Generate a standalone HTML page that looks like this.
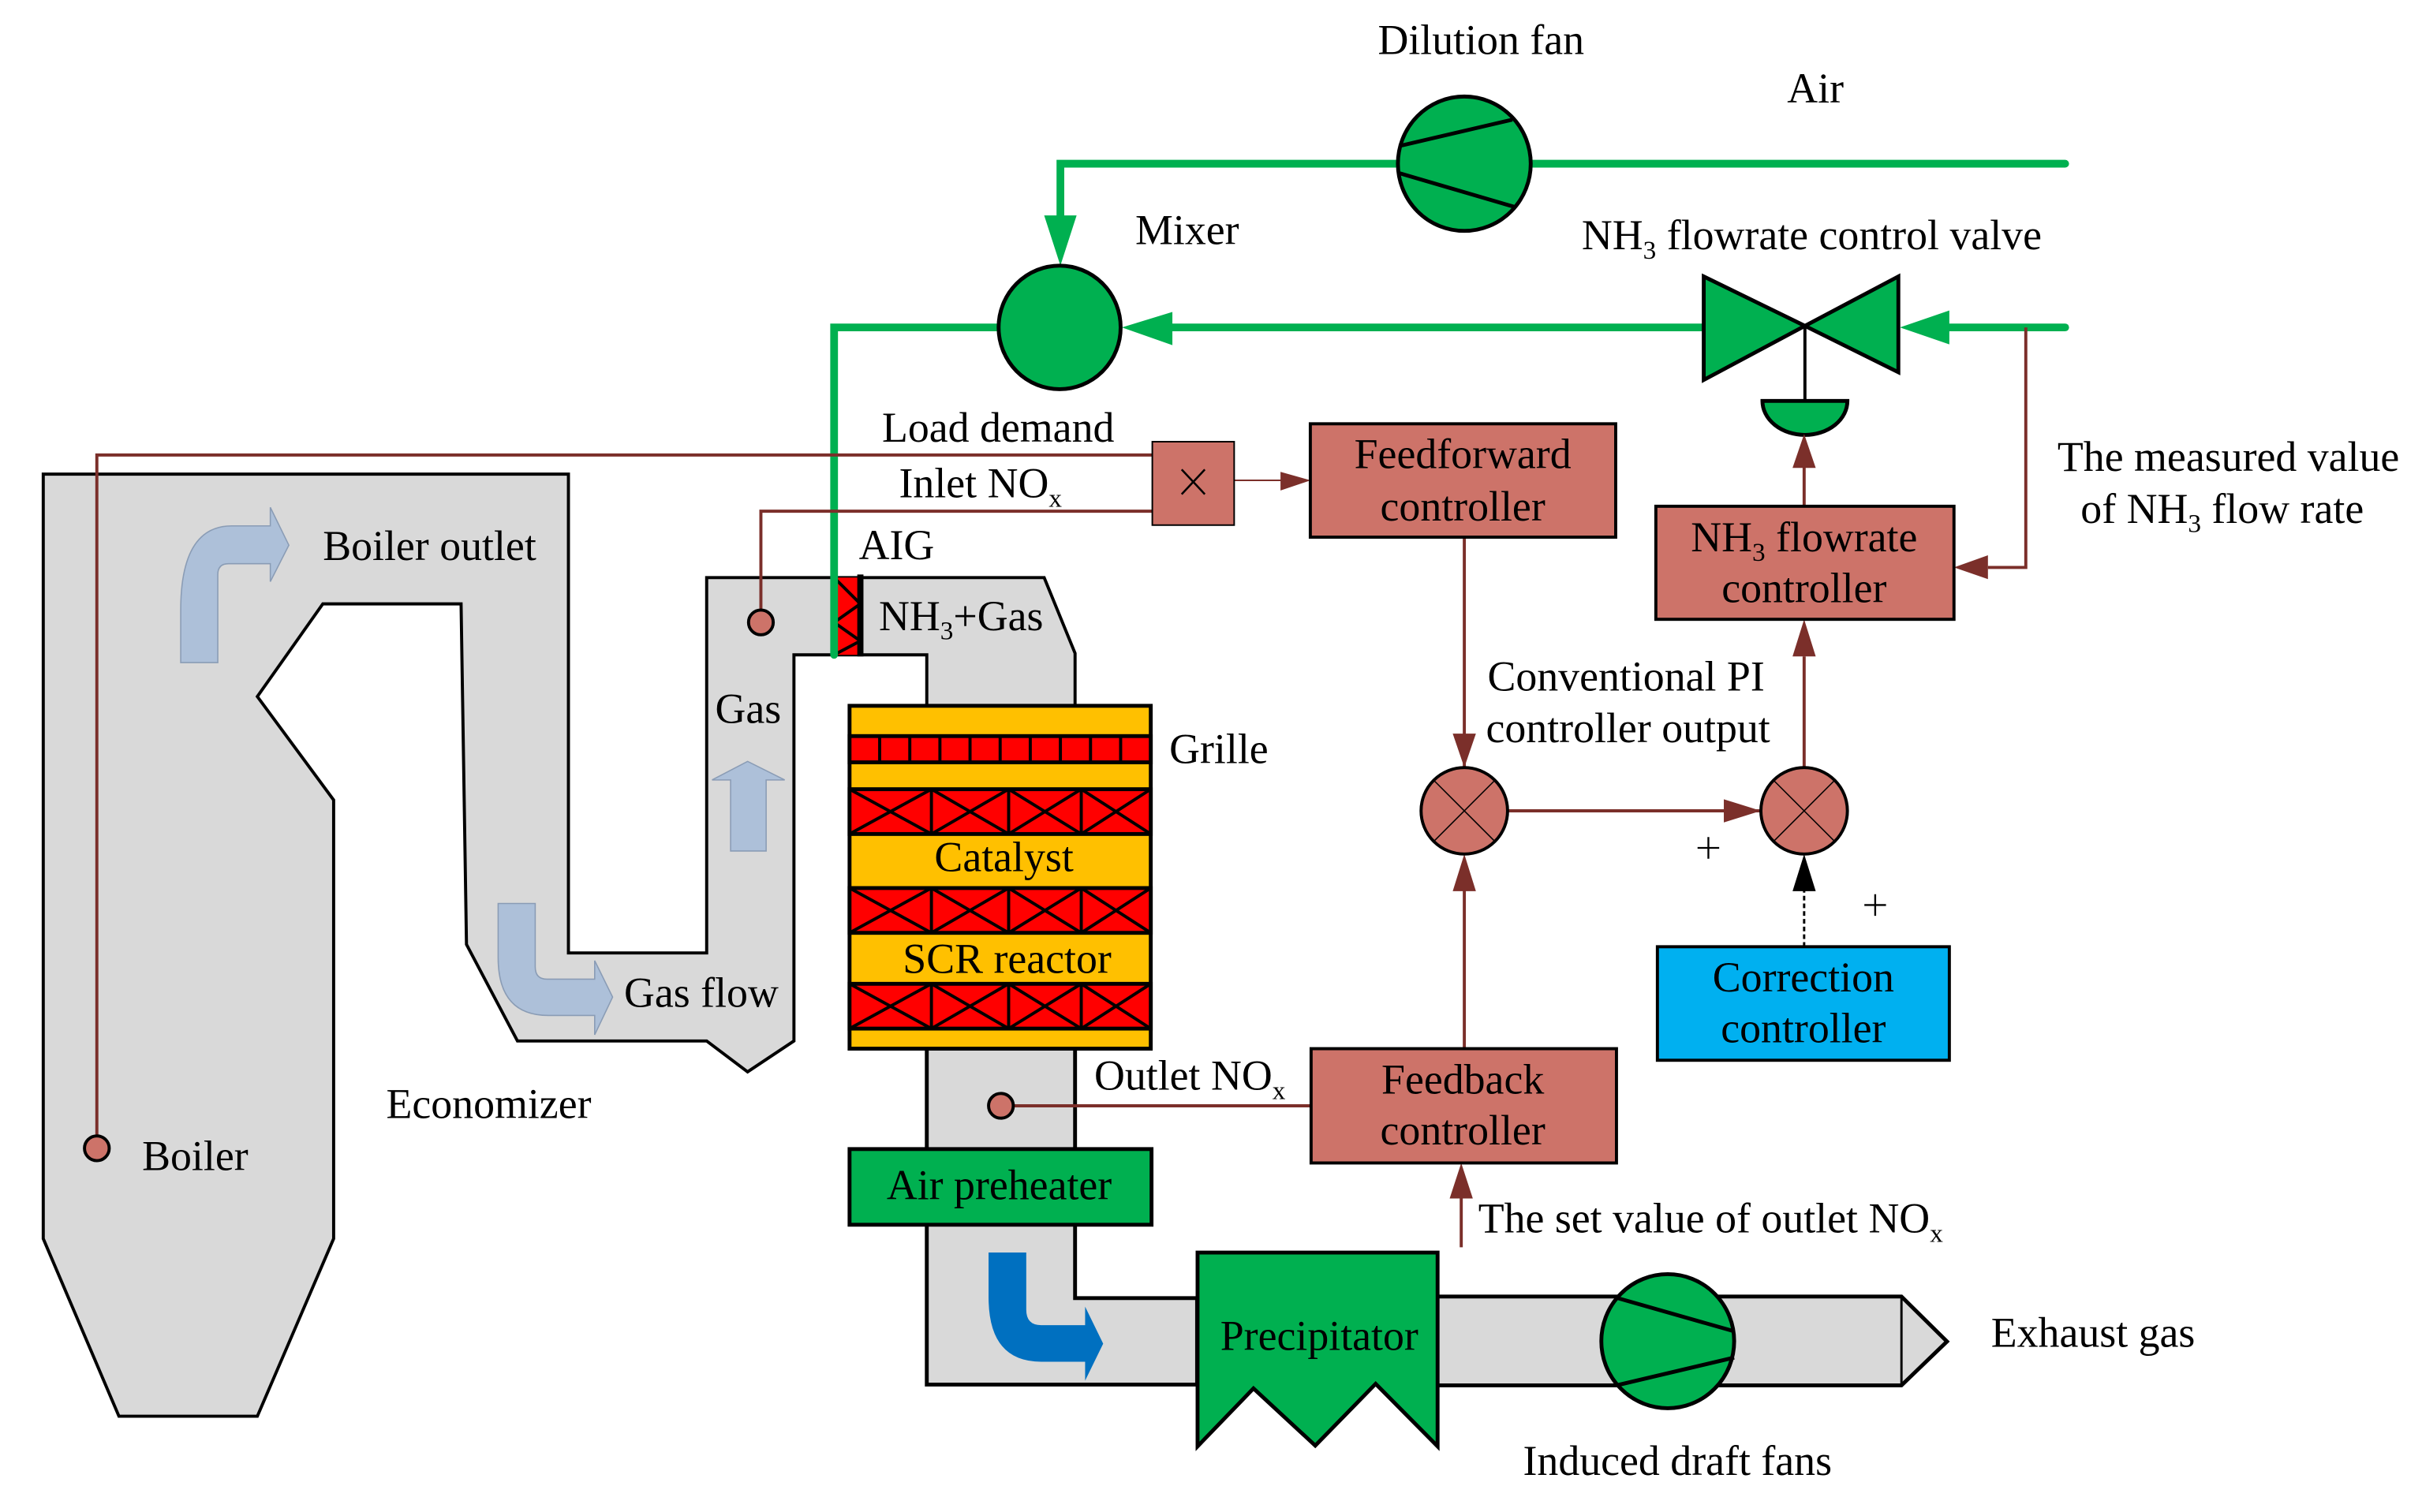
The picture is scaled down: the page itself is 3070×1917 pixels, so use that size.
<!DOCTYPE html>
<html><head><meta charset="utf-8"><style>
html,body{margin:0;padding:0;background:#fff;}
svg{display:block;}
text{font-family:"Liberation Serif",serif;font-size:27.5px;fill:#000;}
</style></head><body>
<svg width="3070" height="1917" viewBox="0 0 1568 979" preserveAspectRatio="none" xmlns="http://www.w3.org/2000/svg">
<!-- boiler + ducts -->
<path d="M28,307 H368 V617 H457.5 V374 H676 L696,423 V457 H600 V424 H514 V674 L484,694 L457.5,674 H335 L302,611.5 L298.5,391 H209 L166.6,451 L216,518 V802 L166.6,917 H77 L28,802 Z" fill="#d9d9d9" stroke="#000" stroke-width="2"/>
<path d="M600,679 H696 V840.5 H775 V896.5 H600 Z" fill="#d9d9d9" stroke="#000" stroke-width="2.5"/>
<path d="M930,839.5 H1231 L1260.5,868.6 L1231,897 H930 Z" fill="#d9d9d9" stroke="#000" stroke-width="2.5"/>
<line x1="1231" y1="839.5" x2="1231" y2="897" stroke="#000" stroke-width="1.5"/>
<!-- light blue arrows -->
<path d="M117,429 V395 Q117,340.5 150,340.5 H175 V328.5 L187,353 L175,376.6 V365 H148 Q141,365 141,372 V429 Z" fill="#adc0d9" stroke="#8a9cb5" stroke-width="0.8"/>
<path d="M473,551 V505 H461 L484,493 L508,505 H496 V551 Z" fill="#adc0d9" stroke="#8a9cb5" stroke-width="0.8"/>
<path d="M322.5,585 H346.5 V626 Q346.5,634 354,634 H385 V622 L396.6,645.6 L385,670 V657.5 H355 Q322.5,657.5 322.5,620 Z" fill="#adc0d9" stroke="#8a9cb5" stroke-width="0.8"/>
<path d="M640,811 H664.4 V848 Q664.4,858 674,858 H702.5 V846 L714.2,870 L702.5,894 V881.7 H674 Q640,881.7 640,840 Z" fill="#0070c0"/>
<!-- reactor -->
<g stroke="#000" stroke-width="2.5">
<rect x="550" y="457" width="195" height="222" fill="#ffc000"/>
<rect x="550" y="476.6" width="195" height="17" fill="#ff0000"/>
<rect x="550" y="511" width="195" height="29" fill="#ff0000"/>
<rect x="550" y="575" width="195" height="29" fill="#ff0000"/>
<rect x="550" y="637" width="195" height="29" fill="#ff0000"/>
</g>
<g stroke="#000" stroke-width="2">
<path d="M569.5,476.6V493.6M589,476.6V493.6M608.5,476.6V493.6M628,476.6V493.6M647.5,476.6V493.6M667,476.6V493.6M686.5,476.6V493.6M706,476.6V493.6M725.5,476.6V493.6"/>
<path d="M603,511V540M653,511V540M700,511V540M550,511L603,540M603,511L550,540M603,511L653,540M653,511L603,540M653,511L700,540M700,511L653,540M700,511L745,540M745,511L700,540"/>
<path d="M603,575V604M653,575V604M700,575V604M550,575L603,604M603,575L550,604M603,575L653,604M653,575L603,604M653,575L700,604M700,575L653,604M700,575L745,604M745,575L700,604"/>
<path d="M603,637V666M653,637V666M700,637V666M550,637L603,666M603,637L550,666M603,637L653,666M653,637L603,666M653,637L700,666M700,637L653,666M700,637L745,666M745,637L700,666"/>
</g>
<text x="650" y="564" text-anchor="middle">Catalyst</text>
<text x="652" y="630" text-anchor="middle">SCR reactor</text>
<!-- AIG -->
<rect x="540" y="374" width="17" height="50" fill="#ff0000"/>
<path d="M540,374 L557,391 L540,403 L557,415 L540,424" fill="none" stroke="#000" stroke-width="2"/>
<line x1="557" y1="372" x2="557" y2="425" stroke="#000" stroke-width="4"/>
<!-- green pipes -->
<g stroke="#00b050" stroke-width="5" fill="none" stroke-linecap="round">
<path d="M1337,106 H686.5 V145"/>
<path d="M1337,212 H1262"/>
<path d="M1103,212 H755"/>
<path d="M646,212 H540 V424"/>
</g>
<polygon points="676,139.5 697,139.5 686.5,172" fill="#00b050"/>
<polygon points="759,202 759,223.5 726.3,212" fill="#00b050"/>
<polygon points="1262,201 1262,223 1230,212" fill="#00b050"/>
<ellipse cx="948" cy="106" rx="43" ry="43.5" fill="#00b050" stroke="#000" stroke-width="2.5"/>
<path d="M906,94.5 L979,77.5 M905.5,112 L980.6,134" stroke="#000" stroke-width="2.5"/>
<ellipse cx="686" cy="212" rx="39.5" ry="40" fill="#00b050" stroke="#000" stroke-width="2.5"/>
<polygon points="1103,179 1103,246 1168.5,211" fill="#00b050" stroke="#000" stroke-width="2.5"/>
<polygon points="1229,179 1229,241 1168.5,211" fill="#00b050" stroke="#000" stroke-width="2.5"/>
<line x1="1168.5" y1="211" x2="1168.5" y2="259.6" stroke="#000" stroke-width="2"/>
<path d="M1141,259.6 H1196 A27.5,22 0 0 1 1141,259.6 Z" fill="#00b050" stroke="#000" stroke-width="2.5"/>
<!-- air preheater, precipitator, ID fan -->
<rect x="550" y="744" width="195.5" height="49" fill="#00b050" stroke="#000" stroke-width="2.5"/>
<text x="574" y="776.5">Air preheater</text>
<path d="M775.3,811 H930.7 V936.5 L890.6,896 L851.5,936 L811.5,899 L775.3,936.5 Z" fill="#00b050" stroke="#000" stroke-width="2.5"/>
<text x="790" y="874">Precipitator</text>
<ellipse cx="1079.7" cy="868.4" rx="43" ry="43.4" fill="#00b050" stroke="#000" stroke-width="2.5"/>
<path d="M1045.5,840 L1122.7,862 M1122.7,879 L1046.5,897" stroke="#000" stroke-width="2.5"/>
<!-- brown signal lines -->
<g stroke="#7b2f2a" stroke-width="2" fill="none">
<path d="M62.7,736 V294.6 H746"/>
<path d="M492.6,396 V331 H746"/>
<path d="M799,311 H830" stroke-width="1"/>
<path d="M948,348 V500"/>
<path d="M976,525 H1142"/>
<path d="M1168,497 V425"/>
<path d="M1168,328 V302"/>
<path d="M1311.5,212 V367.4 H1287"/>
<path d="M948,679 V556"/>
<path d="M946,807.6 V776"/>
<path d="M656,716 H849"/>
</g>
<g fill="#7b2f2a">
<polygon points="829,305.5 829,317.6 848.5,311"/>
<polygon points="940.5,475 955.5,475 948,497"/>
<polygon points="1116,517.5 1116,532.5 1140,525"/>
<polygon points="1160.5,425 1175.5,425 1168,401"/>
<polygon points="1160.5,303 1175.5,303 1168,281"/>
<polygon points="1287,359.5 1287,375 1265,367.4"/>
<polygon points="940.5,577 955.5,577 948,553"/>
<polygon points="938.5,776 953.5,776 946,753"/>
</g>
<line x1="1168" y1="613" x2="1168" y2="575" stroke="#000" stroke-width="1.5" stroke-dasharray="3,2"/>
<polygon points="1160.5,577 1175.5,577 1168,553" fill="#000"/>
<!-- sensors -->
<g fill="#cd7369" stroke="#000" stroke-width="2">
<circle cx="62.7" cy="743.5" r="8"/>
<circle cx="492.6" cy="403" r="8"/>
<circle cx="648" cy="716" r="8"/>
</g>
<!-- control boxes -->
<g stroke="#000" stroke-width="2">
<rect x="746" y="286" width="53" height="54" fill="#cd7369" stroke-width="1"/>
<rect x="848.3" y="274.4" width="197.7" height="73.4" fill="#cd7369"/>
<rect x="1072" y="327.8" width="193" height="73.2" fill="#cd7369"/>
<rect x="848.8" y="679" width="197.7" height="74" fill="#cd7369"/>
<rect x="1073" y="613" width="189" height="73.5" fill="#00b0f0"/>
<ellipse cx="948" cy="525" rx="28" ry="28" fill="#cd7369"/>
<ellipse cx="1168" cy="525" rx="28" ry="28" fill="#cd7369"/>
</g>
<path d="M928.2,505.2 L967.8,544.8 M967.8,505.2 L928.2,544.8 M1148.2,505.2 L1187.8,544.8 M1187.8,505.2 L1148.2,544.8" stroke="#000" stroke-width="0.8"/>
<path d="M765,304 L780,320 M780,304 L765,320" stroke="#000" stroke-width="1.3"/>
<text x="947" y="303" text-anchor="middle">Feedforward</text>
<text x="947" y="337" text-anchor="middle">controller</text>
<text x="1168" y="357" text-anchor="middle">NH<tspan font-size="17" dy="6">3</tspan><tspan dy="-6"> flowrate</tspan></text>
<text x="1168" y="390" text-anchor="middle">controller</text>
<text x="947" y="708" text-anchor="middle">Feedback</text>
<text x="947" y="741" text-anchor="middle">controller</text>
<text x="1167.5" y="642" text-anchor="middle">Correction</text>
<text x="1167.5" y="675" text-anchor="middle">controller</text>
<!-- labels -->
<text x="892" y="35">Dilution fan</text>
<text x="1157" y="66.4">Air</text>
<text x="735" y="158">Mixer</text>
<text x="1024" y="161.5">NH<tspan font-size="17" dy="6">3</tspan><tspan dy="-6"> flowrate control valve</tspan></text>
<text x="571" y="286">Load demand</text>
<text x="582" y="322">Inlet NO<tspan font-size="17" dy="6">x</tspan></text>
<text x="556" y="362">AIG</text>
<text x="569" y="408">NH<tspan font-size="17" dy="6">3</tspan><tspan dy="-6">+Gas</tspan></text>
<text x="757" y="494">Grille</text>
<text x="209" y="362.6">Boiler outlet</text>
<text x="463" y="468">Gas</text>
<text x="404" y="652">Gas flow</text>
<text x="250" y="724">Economizer</text>
<text x="92" y="757.5">Boiler</text>
<text x="708.4" y="705.6">Outlet NO<tspan font-size="17" dy="6">x</tspan></text>
<text x="963" y="447">Conventional PI</text>
<text x="962" y="480.5">controller output</text>
<text x="1332" y="305">The measured value</text>
<text x="1347" y="338.5">of NH<tspan font-size="17" dy="6">3</tspan><tspan dy="-6"> flow rate</tspan></text>
<path d="M1099,549 H1113 M1106,542 V556 M1207,586 H1221 M1214,579 V593" stroke="#000" stroke-width="1.2"/>
<text x="957" y="798">The set value of outlet NO<tspan font-size="17" dy="6">x</tspan></text>
<text x="1289" y="872">Exhaust gas</text>
<text x="986" y="955">Induced draft fans</text>
</svg>
</body></html>
